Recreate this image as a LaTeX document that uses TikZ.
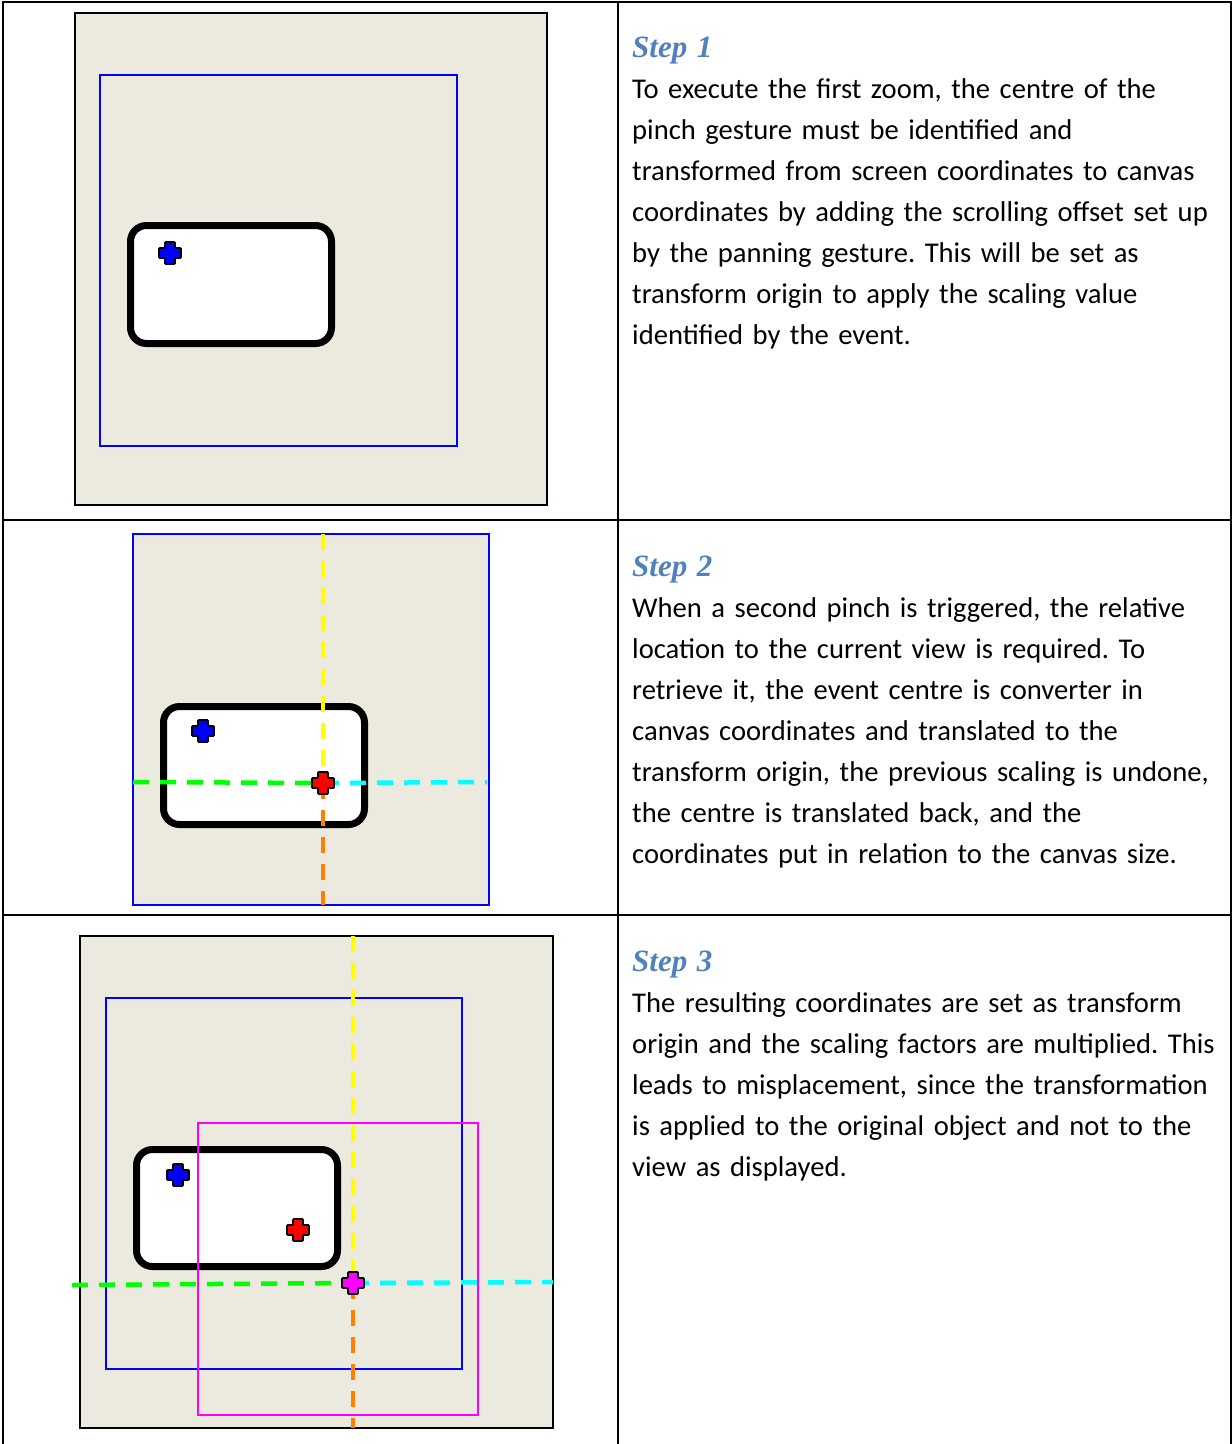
\documentclass[tikz,border=0pt]{standalone}
\usepackage{fontspec}
\setmainfont{Carlito}
\newfontfamily\headfont{Liberation Serif}
\frenchspacing
\definecolor{canvas}{HTML}{ECE9DF}
\definecolor{stepblue}{HTML}{4F81BD}
\definecolor{guideorange}{HTML}{FF8000}
\definecolor{guideyellow}{HTML}{FFFF00}
\definecolor{guidegreen}{HTML}{00FF00}
\definecolor{guidecyan}{HTML}{00FFFF}
\definecolor{zoompink}{HTML}{FF00FF}
\definecolor{markred}{HTML}{FF0000}
\definecolor{markblue}{HTML}{0000FF}
\tikzset{
  frame/.style={draw=black, line width=2pt},
  canvasbox/.style={fill=canvas, draw=black, line width=2pt},
  viewbox/.style={draw=markblue, line width=1.8pt},
  zoombox/.style={draw=zoompink, line width=1.8pt},
  objbox/.style={fill=white, draw=black, line width=7pt, rounded corners=16pt},
  guide/.style={line width=4.5pt, dash pattern=on 16pt off 11pt},
  steptext/.style={anchor=north west, inner sep=0pt, text width=640pt, align=left,
    font=\fontsize{28.6}{41.1}\selectfont}
}
\newcommand{\steptitle}[1]{{\headfont\fontsize{31}{41.1}\selectfont\bfseries\itshape\color{stepblue}#1}}
% plus-shaped marker for a pinch centre
\newcommand{\pinch}[2]{\filldraw[fill=#1, draw=black, line width=1.8pt, rounded corners=1pt, shift={(#2)}]
  (-5,-11) -- (5,-11) -- (5,-5) -- (11,-5) -- (11,5) -- (5,5) -- (5,11)
  -- (-5,11) -- (-5,5) -- (-11,5) -- (-11,-5) -- (-5,-5) -- cycle;}
\begin{document}
\begin{tikzpicture}[x=1pt, y=-1pt]
\useasboundingbox (0,0) rectangle (1232,1444);
% table
\draw[frame] (3,1444) -- (3,2) -- (1231,2) -- (1231,1444);
\draw[frame] (618,2) -- (618,1444);
\draw[frame] (3,520) -- (1231,520);
\draw[frame] (3,915) -- (1231,915);

% step 1
\draw[canvasbox] (75,13) rectangle (547,505);
\draw[viewbox] (100,75) rectangle (457,446);
\draw[objbox] (130.5,225.5) rectangle (331.5,343.5);
\coordinate (b1) at (170,253);
\pinch{markblue}{b1}
\node[steptext] (step1) at (632,28.2) {\strut\steptitle{Step 1}\\
To execute the first zoom, the centre of the\\
pinch gesture must be identified and\\
transformed from screen coordinates to canvas\\
coordinates by adding the scrolling offset set up\\
by the panning gesture. This will be set as\\
transform origin to apply the scaling value\\
identified by the event.};

% step 2
\draw[viewbox, fill=canvas] (133,534) rectangle (489,905);
\draw[objbox] (163.5,706.5) rectangle (364.5,824.5);
\coordinate (b2) at (203,731);
\coordinate (r2) at (323,783);
\draw[guide, guideyellow] (323,534) -- (r2);
\draw[guide, guideorange] (r2) -- (323,905);
\draw[guide, guidegreen] (133,782) -- (r2);
\draw[guide, guidecyan] (r2) -- (487,782);
\pinch{markblue}{b2}
\pinch{markred}{r2}
\node[steptext] (step2) at (632,547.2) {\strut\steptitle{Step 2}\\
When a second pinch is triggered, the relative\\
location to the current view is required. To\\
retrieve it, the event centre is converter in\\
canvas coordinates and translated to the\\
transform origin, the previous scaling is undone,\\
the centre is translated back, and the\\
coordinates put in relation to the canvas size.};

% step 3
\draw[canvasbox] (80,936) rectangle (553,1428);
\draw[viewbox] (106,998) rectangle (462,1369);
\draw[objbox] (136.5,1149.5) rectangle (337.5,1266.5);
\draw[zoombox] (198,1123) rectangle (478,1415);
\coordinate (b3) at (178,1175);
\coordinate (r3) at (298,1230);
\coordinate (m3) at (353,1283);
\draw[guide, guideyellow] (353,936) -- (m3);
\draw[guide, guideorange] (m3) -- (353,1428);
\draw[guide, guidegreen] (72,1285) -- (m3);
\draw[guide, guidecyan] (m3) -- (553,1282);
\pinch{markblue}{b3}
\pinch{markred}{r3}
\pinch{zoompink}{m3}
\node[steptext] (step3) at (632,942.2) {\strut\steptitle{Step 3}\\
The resulting coordinates are set as transform\\
origin and the scaling factors are multiplied. This\\
leads to misplacement, since the transformation\\
is applied to the original object and not to the\\
view as displayed.};
\end{tikzpicture}
\end{document}
